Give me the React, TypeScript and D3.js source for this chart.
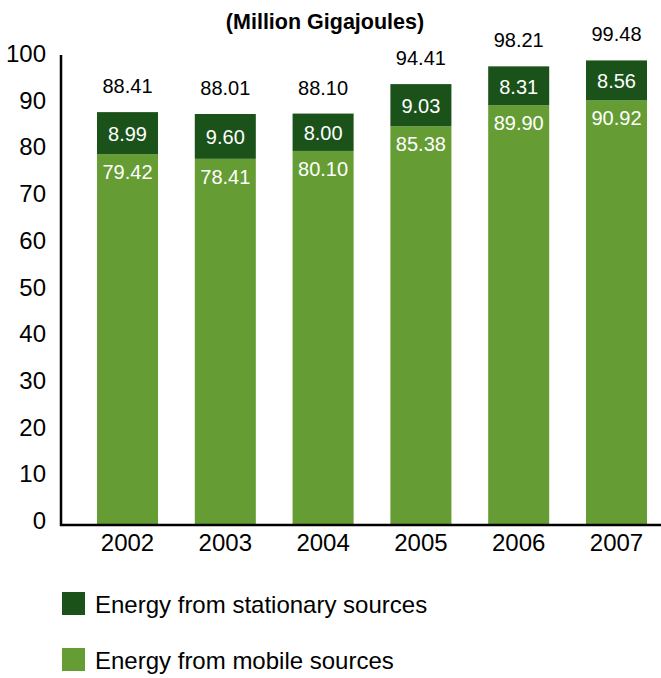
import React from 'react';
import * as d3 from 'd3';

const years = ['2002', '2003', '2004', '2005', '2006', '2007'];
const mobile = [79.42, 78.41, 80.1, 85.38, 89.9, 90.92];
const stationary = [8.99, 9.6, 8.0, 9.03, 8.31, 8.56];
const totals = [88.41, 88.01, 88.1, 94.41, 98.21, 99.48];
const yTicks = [0, 10, 20, 30, 40, 50, 60, 70, 80, 90, 100];
const seriesNames = ['Energy from stationary sources', 'Energy from mobile sources'];

const DARK = '#1a5219';
const LIGHT = '#659d34';
const FONT = "'Liberation Sans Narrow', 'Liberation Sans', sans-serif";

const W = 661;
const H = 678;
const axisX = 61;
const baseY = 525;

export default function App() {
  const x = d3
    .scaleBand<string>()
    .domain(years)
    .range([78.6, 665.4])
    .paddingInner(0.376)
    .paddingOuter(0.188);

  const y = d3.scaleLinear().domain([0, 100]).range([baseY, 58]);

  const rows = years.map((yr, i) => ({
    year: yr,
    mobile: mobile[i],
    stationary: stationary[i],
    total: totals[i],
  }));

  const stack = d3.stack<any>().keys(['mobile', 'stationary'])(rows);
  const fmt = d3.format('.2f');

  return (
    <svg
      width={W}
      height={H}
      style={{ position: 'absolute', left: 0, top: 0, background: '#fff' }}
      fontFamily={FONT}
    >
      {/* title */}
      <text x={325} y={29} textAnchor="middle" fontSize={21.5} fontWeight="bold" fill="#000">
        (Million Gigajoules)
      </text>

      {/* bars */}
      {stack.map((layer, li) => (
        <g key={layer.key} fill={li === 0 ? LIGHT : DARK}>
          {layer.map((d, i) => (
            <rect
              key={years[i]}
              x={x(years[i])}
              y={y(d[1])}
              width={x.bandwidth()}
              height={y(d[0]) - y(d[1])}
            />
          ))}
        </g>
      ))}

      {/* value labels */}
      {rows.map((r) => {
        const cx = (x(r.year) as number) + x.bandwidth() / 2;
        const top = y(r.mobile + r.stationary);
        const mid = y(r.mobile);
        return (
          <g key={r.year} textAnchor="middle" fontSize={20}>
            <text x={cx} y={top - 19} fill="#000">{fmt(r.total)}</text>
            <text x={cx} y={(top + mid) / 2 + 8} fill="#fff">{fmt(r.stationary)}</text>
            <text x={cx} y={mid + 25} fill="#fff">{fmt(r.mobile)}</text>
          </g>
        );
      })}

      {/* axes */}
      <line x1={axisX} x2={axisX} y1={55} y2={baseY + 1} stroke="#000" strokeWidth={2.5} />
      <line x1={axisX - 1} x2={W} y1={baseY} y2={baseY} stroke="#000" strokeWidth={2.5} />

      {yTicks.map((t) => (
        <text key={t} x={46} y={y(t) + 4} textAnchor="end" fontSize={24} fill="#000">
          {t}
        </text>
      ))}

      {years.map((yr) => (
        <text
          key={yr}
          x={(x(yr) as number) + x.bandwidth() / 2}
          y={551}
          textAnchor="middle"
          fontSize={24}
          fill="#000"
        >
          {yr}
        </text>
      ))}

      {/* legend */}
      {seriesNames.map((name, i) => (
        <g key={name} transform={`translate(62, ${592 + i * 56})`}>
          <rect width={23} height={23} fill={i === 0 ? DARK : LIGHT} />
          <text x={33} y={21} fontSize={24} fill="#000">{name}</text>
        </g>
      ))}
    </svg>
  );
}
